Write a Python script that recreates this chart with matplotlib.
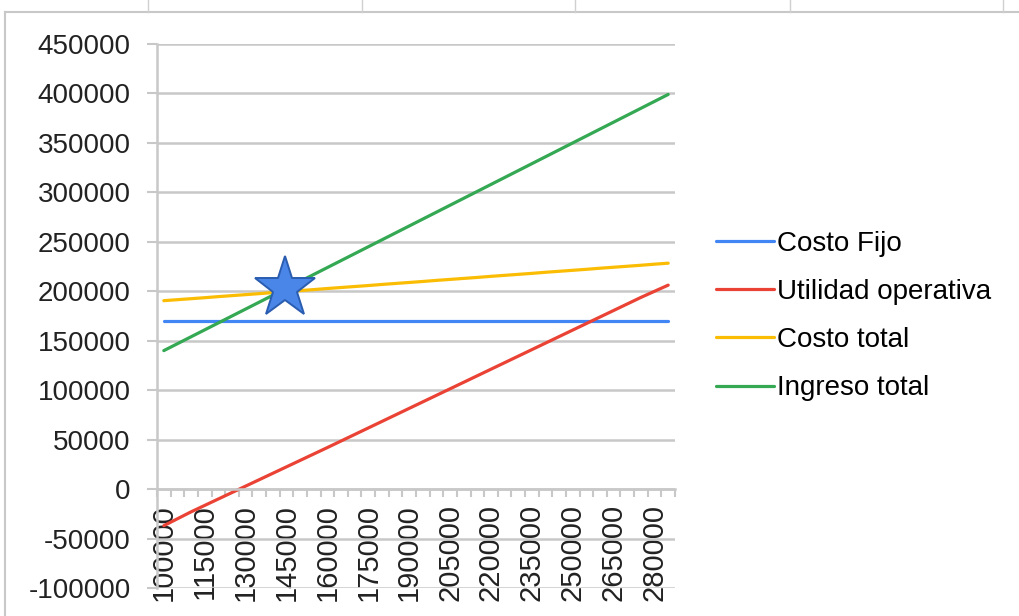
# Punto de equilibrio: costo fijo, costo total, ingreso total y utilidad operativa
import matplotlib.pyplot as plt
from matplotlib.lines import Line2D

# cantidades (categorías del eje x)
cantidad = [100000, 105000, 110000, 115000, 120000, 125000, 130000, 135000,
            140000, 145000, 150000, 155000, 160000, 165000, 170000, 175000,
            180000, 185000, 190000, 195000, 200000, 205000, 210000, 215000,
            220000, 225000, 230000, 235000, 240000, 245000, 250000, 255000,
            260000, 265000, 270000, 275000, 280000, 285000]

costo_fijo = [170000] * len(cantidad)

utilidad_operativa = [-37000, -30000, -23000, -16500, -10000, -3500, 3000, 9500,
                      16000, 22500, 29000, 35500, 42000, 48600, 55200, 61800,
                      68400, 75000, 81600, 88200, 94800, 101400, 108000, 114600,
                      121200, 127800, 134400, 141000, 147600, 154200, 160800, 167400,
                      174000, 180600, 187200, 193800, 200000, 206200]

costo_total = [190500, 191500, 192500, 193500, 194600, 195600, 196600, 197600,
               198700, 199700, 200700, 201700, 202800, 203800, 204800, 205800,
               206900, 207900, 208900, 209900, 211000, 212000, 213000, 214000,
               215100, 216100, 217100, 218100, 219200, 220200, 221200, 222200,
               223300, 224300, 225300, 226300, 227400, 228400]

ingreso_total = [140000, 147000, 154000, 161000, 168000, 175000, 182000, 189000,
                 196000, 203000, 210000, 217000, 224000, 231000, 238000, 245000,
                 252000, 259000, 266000, 273000, 280000, 287000, 294000, 301000,
                 308000, 315000, 322000, 329000, 336000, 343000, 350000, 357000,
                 364000, 371000, 378000, 385000, 392000, 399000]

# punto de equilibrio marcado con la estrella
equilibrio_cantidad = 144500
equilibrio_valor = 203000

series = [
    ("Costo Fijo", costo_fijo, "#4285f4"),
    ("Utilidad operativa", utilidad_operativa, "#ea4335"),
    ("Costo total", costo_total, "#fbbc04"),
    ("Ingreso total", ingreso_total, "#34a853"),
]

plt.rcParams["font.family"] = ["Liberation Sans", "DejaVu Sans"]
plt.rcParams["axes.unicode_minus"] = False

fig = plt.figure(figsize=(10.19, 6.16), dpi=100)
ax = fig.add_axes([157 / 1019, 1 - 588 / 616, (675 - 157) / 1019, (588 - 44) / 616])

# eje de categorías: cada cantidad en su índice
idx = list(range(len(cantidad)))
for nombre, valores, color in series:
    ax.plot(idx, valores, color=color, lw=2.3, label=nombre, solid_capstyle="round")

# estrella del punto de equilibrio
ax.plot((equilibrio_cantidad - cantidad[0]) / (cantidad[1] - cantidad[0]), equilibrio_valor,
        marker="*", markersize=46, markerfacecolor="#4a86e8", markeredgecolor="#2a5db0",
        markeredgewidth=1.4, zorder=5)

ax.set_xlim(-0.5, len(cantidad) - 0.5)
ax.set_ylim(-100000, 450000)
ax.set_yticks(range(-100000, 450001, 50000))

# etiquetas cada 3 categorías, marcas entre categorías
ax.set_xticks(idx[::3])
ax.set_xticklabels([str(c) for c in cantidad[::3]])
ax.set_xticks([i - 0.5 for i in range(len(cantidad) + 1)], minor=True)
ax.tick_params(axis="x", which="major", length=0, pad=11, labelsize=21,
               labelcolor="#222222", labelrotation=90)
ax.tick_params(axis="x", which="minor", length=6, width=1.5, color="#c8c8c8", direction="out")
ax.tick_params(axis="y", length=7, width=1.5, color="#c8c8c8", pad=12, labelsize=20,
               labelcolor="#222222")

ax.grid(axis="y", color="#c8c8c8", lw=1.8)
ax.set_axisbelow(True)

for s in ["top", "right"]:
    ax.spines[s].set_visible(False)
ax.spines["bottom"].set_position(("data", 0))
ax.spines["bottom"].set_color("#c8c8c8")
ax.spines["bottom"].set_linewidth(1.8)
ax.spines["left"].set_color("#c8c8c8")
ax.spines["left"].set_linewidth(1.8)

fig.legend(loc="center left", bbox_to_anchor=(702 / 1019, 1 - 316 / 616), frameon=False,
           fontsize=20, handlelength=2.1, handletextpad=0.1, labelspacing=0.8, borderpad=0)

# marco de la hoja alrededor del gráfico
fig.add_artist(Line2D([5 / 1019, 1], [1 - 12 / 616] * 2, color="#c8c8c8", lw=1.5))
fig.add_artist(Line2D([5 / 1019] * 2, [0, 1 - 12 / 616], color="#c8c8c8", lw=1.5))
for xc in [148, 362, 575, 790, 1003]:
    fig.add_artist(Line2D([xc / 1019] * 2, [1 - 12 / 616, 1], color="#d0d0d0", lw=1))

fig.savefig("out.png", dpi=100)
